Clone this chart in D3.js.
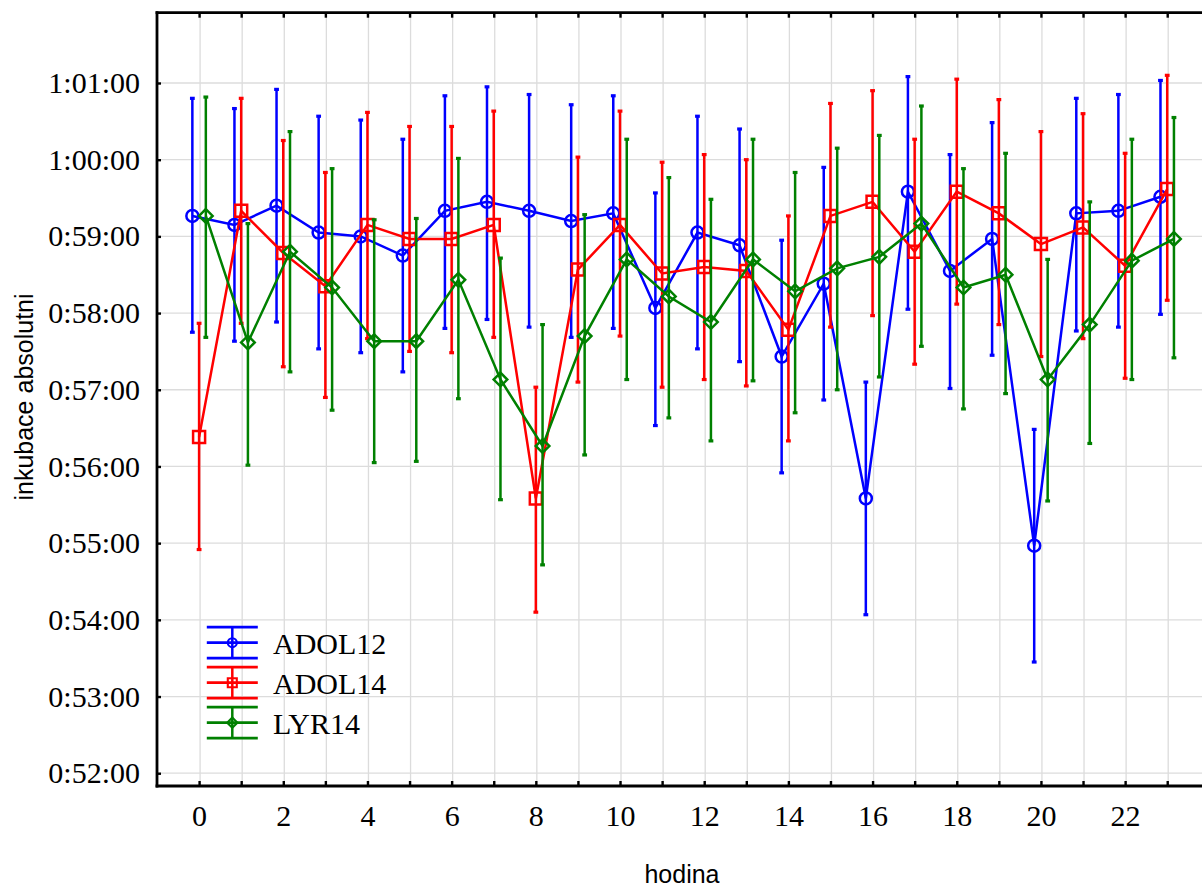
<!DOCTYPE html>
<html>
<head>
<meta charset="utf-8">
<script src="https://cdn.jsdelivr.net/npm/d3@7"></script>
<style>
  html, body { margin: 0; padding: 0; background: #fff; }
  svg { display: block; }
</style>
</head>
<body>
<svg id="chart" width="1202" height="888"></svg>
<script>
// Hour of day (x axis)
const hours = [0,1,2,3,4,5,6,7,8,9,10,11,12,13,14,15,16,17,18,19,20,21,22,23];

// Incubation time in seconds (mean, lower and upper confidence limit)
const adol12Mean = [3556,3549,3564,3543,3540,3525,3560,3567,3560,3552,3558,3484,3543,3533,3446,3503,3335,3575,3513,3538,3298,3558,3560,3571];
const adol12Lo   = [3465,3458,3473,3452,3449,3434,3468,3475,3469,3461,3468,3392,3452,3442,3355,3412,3244,3483,3421,3447,3207,3466,3469,3479];
const adol12Hi   = [3648,3640,3655,3634,3631,3616,3650,3657,3651,3643,3650,3574,3634,3624,3537,3594,3426,3665,3604,3629,3389,3648,3651,3662];

const adol14Mean = [3383,3560,3527,3501,3549,3538,3538,3549,3335,3514,3549,3511,3516,3513,3467,3556,3567,3528,3575,3558,3534,3547,3517,3577];
const adol14Lo   = [3295,3472,3438,3414,3460,3450,3449,3461,3246,3426,3462,3422,3428,3423,3380,3469,3478,3440,3487,3471,3446,3460,3429,3490];
const adol14Hi   = [3472,3648,3615,3590,3637,3626,3626,3638,3422,3602,3638,3598,3604,3600,3556,3644,3654,3616,3663,3647,3622,3636,3605,3666];

const lyr14Mean  = [3556,3457,3528,3500,3458,3458,3506,3428,3376,3462,3522,3493,3473,3522,3497,3515,3524,3550,3500,3510,3428,3471,3521,3538];
const lyr14Lo    = [3461,3361,3434,3404,3363,3364,3413,3334,3283,3369,3428,3398,3380,3427,3402,3420,3430,3454,3405,3417,3333,3378,3428,3445];
const lyr14Hi    = [3649,3550,3622,3593,3553,3554,3601,3523,3471,3557,3616,3586,3569,3616,3590,3609,3619,3642,3593,3605,3522,3567,3616,3633];

// Y ticks: every minute from 0:52:00 to 1:01:00 (seconds)
const yTicks = [3120,3180,3240,3300,3360,3420,3480,3540,3600,3660];

const seriesNames = ["ADOL12", "ADOL14", "LYR14"];
const seriesColors = ["#0000ff", "#ff0000", "#008000"];
const seriesShapes = ["circle", "square", "diamond"];
const seriesOffset = [-0.16, 0, 0.16];

const series = seriesNames.map((name, i) => ({
  name,
  color: seriesColors[i],
  shape: seriesShapes[i],
  offset: seriesOffset[i],
  points: hours.map((h, j) => ({
    h,
    mean: [adol12Mean, adol14Mean, lyr14Mean][i][j],
    lo: [adol12Lo, adol14Lo, lyr14Lo][i][j],
    hi: [adol12Hi, adol14Hi, lyr14Hi][i][j]
  }))
}));

const svg = d3.select("#chart");
svg.append("rect").attr("width", 1202).attr("height", 888).attr("fill", "#fff");

const plotLeft = 157, plotRight = 1209.3, plotTop = 12.7, plotBottom = 786;
const x = d3.scaleLinear().domain([-1, 24]).range([plotLeft, plotRight]);
const y = d3.scaleLinear().domain([3110, 3715]).range([plotBottom, plotTop]);

const fmt = s => {
  const hh = Math.floor(s / 3600);
  const mm = Math.floor((s % 3600) / 60);
  const ss = s % 60;
  return hh + ":" + String(mm).padStart(2, "0") + ":" + String(ss).padStart(2, "0");
};

// Grid
const grid = svg.append("g").attr("stroke", "#dcdcdc").attr("stroke-width", 1.3);
grid.selectAll("line.v").data(hours.concat([24])).join("line")
  .attr("class", "v")
  .attr("x1", d => x(d) + 1).attr("x2", d => x(d) + 1)
  .attr("y1", plotTop).attr("y2", plotBottom);
grid.selectAll("line.h").data(yTicks).join("line")
  .attr("class", "h")
  .attr("x1", plotLeft).attr("x2", 1202)
  .attr("y1", d => y(d)).attr("y2", d => y(d));

// Marker shapes
const symbolPath = (shape) => {
  if (shape === "circle") return d3.symbol(d3.symbolCircle, Math.PI * 36)();
  if (shape === "square") return d3.symbol(d3.symbolSquare, 144)();
  return "M0,-6.8L6.8,0L0,6.8L-6.8,0Z";
};

const lw = 2.5;

// Series: error bars, mean line, markers
series.forEach(s => {
  const g = svg.append("g").attr("class", "series");
  const px = d => x(d.h + s.offset);

  g.selectAll("line.bar").data(s.points).join("line")
    .attr("class", "bar")
    .attr("x1", px).attr("x2", px)
    .attr("y1", d => y(d.lo)).attr("y2", d => y(d.hi))
    .attr("stroke", s.color).attr("stroke-width", lw);
  ["lo", "hi"].forEach(k => {
    g.selectAll("line.cap" + k).data(s.points).join("line")
      .attr("class", "cap" + k)
      .attr("x1", d => px(d) - 2.4).attr("x2", d => px(d) + 2.4)
      .attr("y1", d => y(d[k])).attr("y2", d => y(d[k]))
      .attr("stroke", s.color).attr("stroke-width", 3.2);
  });

  g.append("path").datum(s.points)
    .attr("d", d3.line().x(px).y(d => y(d.mean)))
    .attr("fill", "none").attr("stroke", s.color).attr("stroke-width", lw);

  g.selectAll("path.m").data(s.points).join("path")
    .attr("class", "m")
    .attr("transform", d => `translate(${px(d)},${y(d.mean)})`)
    .attr("d", symbolPath(s.shape))
    .attr("fill", "none").attr("stroke", s.color).attr("stroke-width", lw);
});

// Axes
const serif = "'Liberation Serif', 'Times New Roman', serif";
const sans = "'Liberation Sans', Arial, sans-serif";

const yAxis = svg.append("g").attr("transform", `translate(${plotLeft},0)`)
  .call(d3.axisLeft(y).tickValues(yTicks).tickFormat(fmt).tickSize(-4).tickSizeOuter(0).tickPadding(17));
const xAxis = svg.append("g").attr("transform", `translate(0,${plotBottom})`)
  .call(d3.axisBottom(x).tickValues(hours).tickFormat(d => d % 2 === 0 ? d : "").tickSize(-5).tickSizeOuter(0).tickPadding(19));
const xTop = svg.append("g").attr("transform", `translate(0,${plotTop})`)
  .call(d3.axisTop(x).tickValues(hours).tickFormat("").tickSize(-5).tickSizeOuter(0));

[yAxis, xAxis, xTop].forEach(a => {
  a.select(".domain").attr("stroke", "#000").attr("stroke-width", 2.8);
  a.selectAll(".tick line").attr("stroke", "#000").attr("stroke-width", 2.4);
  a.selectAll(".tick text").attr("fill", "#000").style("font-family", serif).style("font-size", "30px");
});
yAxis.select(".domain").attr("d", `M0,${plotTop - 1.4}V${plotBottom + 1.4}`);
xAxis.select(".domain").attr("d", `M${plotLeft - 1.4},0H1202`);
xTop.select(".domain").attr("d", `M${plotLeft - 1.4},0H1202`);

// Axis titles
svg.append("text")
  .attr("x", 682).attr("y", 883)
  .attr("text-anchor", "middle")
  .style("font-family", sans).style("font-size", "25px")
  .text("hodina");
svg.append("text")
  .attr("transform", "translate(33,397) rotate(-90)")
  .attr("text-anchor", "middle")
  .style("font-family", sans).style("font-size", "25px")
  .text("inkubace absolutni");

// Legend
const legend = svg.append("g").attr("transform", "translate(232.3,642.7)");
series.forEach((s, i) => {
  const g = legend.append("g").attr("transform", `translate(0,${i * 40})`);
  [-15.5, 0, 15.5].forEach(dy => {
    g.append("line").attr("x1", -25.5).attr("x2", 25.5).attr("y1", dy).attr("y2", dy)
      .attr("stroke", s.color).attr("stroke-width", 2.8);
  });
  g.append("line").attr("x1", 0).attr("x2", 0).attr("y1", -15.5).attr("y2", 15.5)
    .attr("stroke", s.color).attr("stroke-width", 2.5);
  g.append("path").attr("d", symbolPath(s.shape))
    .attr("transform", "scale(0.75)")
    .attr("fill", "none").attr("stroke", s.color).attr("stroke-width", 2.8);
  g.append("text").attr("x", 40.7).attr("y", 11.3)
    .style("font-family", serif).style("font-size", "30px")
    .text(s.name);
});
</script>
</body>
</html>
